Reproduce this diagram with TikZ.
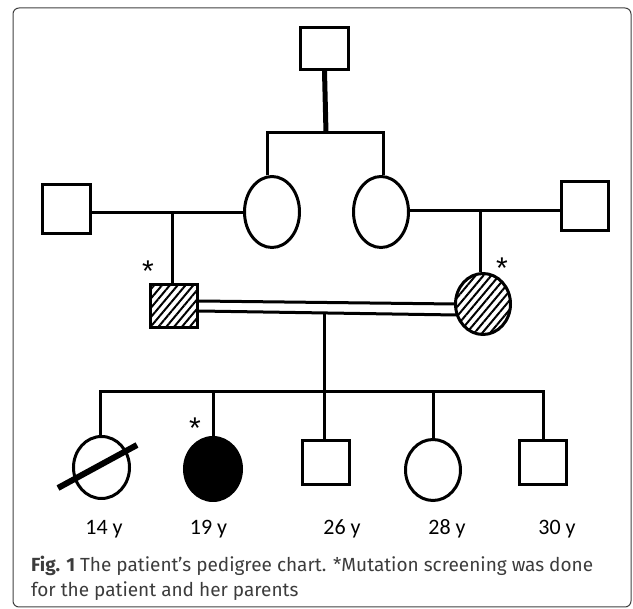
\documentclass[tikz,border=0pt]{standalone}
\usepackage{fontspec}
\setmainfont{Carlito}
\newfontfamily\capfont{Fira Sans}
\newfontfamily\astfont{Liberation Sans}
\usetikzlibrary{shapes.geometric,patterns.meta}
\definecolor{capgray}{RGB}{60,60,60}
\begin{document}
\begin{tikzpicture}[x=1pt,y=-1pt,
 sq/.style={draw,line width=3pt,rectangle,inner sep=0pt},
 circ/.style={draw,line width=3pt,ellipse,inner sep=0pt},
 ln/.style={line width=3pt},
 hatch/.style={pattern={Lines[angle=50,distance=6pt,line width=2pt]}},
 lab/.style={font=\fontsize{22}{26}\selectfont,anchor=base,inner sep=0pt},
 ast/.style={font=\astfont\fontsize{30}{30}\selectfont,anchor=base,inner sep=0pt},
 captext/.style={font=\capfont\fontsize{19}{25}\selectfont,text=capgray,anchor=base west,inner sep=0pt}]
\useasboundingbox (0,0) rectangle (633,609);
\draw[line width=1pt,rounded corners=6pt,black!75] (13,8) rectangle (631,607);
% generation I
\node[sq,minimum width=48pt,minimum height=42pt] (gp) at (324.5,48.5) {};
% generation II
\node[sq,minimum width=48pt,minimum height=49pt] (gfL) at (66.5,209) {};
\node[circ,minimum width=55pt,minimum height=71pt] (gmL) at (272,212) {};
\node[circ,minimum width=55pt,minimum height=71pt] (gmR) at (381,212) {};
\node[sq,minimum width=47pt,minimum height=49pt] (gfR) at (585,206) {};
% parents
\node[sq,hatch,minimum width=47pt,minimum height=43pt] (fa) at (174,306) {};
\node[circ,hatch,minimum width=55pt,minimum height=61pt] (mo) at (483,304) {};
% children
\node[circ,minimum width=56pt,minimum height=62pt] (c14) at (101.5,467.5) {};
\node[circ,fill=black,minimum width=57pt,minimum height=63pt] (c19) at (213,469) {};
\node[sq,minimum width=47pt,minimum height=44pt] (c26) at (326,462.5) {};
\node[circ,minimum width=55pt,minimum height=61pt] (c28) at (433,470) {};
\node[sq,minimum width=47pt,minimum height=44pt] (c30) at (543,462.5) {};
% junctions
\coordinate (gpj) at (326,133);
\coordinate (barL) at (267,133);
\coordinate (barR) at (383,133);
\coordinate (m1) at (172,213);
\coordinate (m2) at (480,211);
\coordinate (cm) at (324,313);
\coordinate (sibL) at (100,392);
\coordinate (sibR) at (543,392);
\coordinate (sl1) at (58,488);
\coordinate (sl2) at (137,445);
% connectors
\draw[line width=5pt] (gp.south) -- (gpj);
\draw[ln] (barL |- gmL.north) -- (barL) -- (barR) -- (barR |- gmR.north);
\draw[ln] (gfL.east |- m1) -- (gmL.west |- m1);
\draw[ln] (m1) -- (m1 |- fa.north);
\draw[ln] (gmR.east |- m2) -- (gfR.west |- m2);
\draw[ln] (m2) -- (m2 |- mo.north);
\draw[ln] ([yshift=5pt]fa.east) -- ([xshift=1pt]mo.west);
\draw[ln] ([yshift=-5pt]fa.east) -- ([xshift=2.5pt,yshift=-11pt]mo.west);
\draw[ln] (cm) -- (cm |- c26.north);
\draw[ln] (sibL |- c14.north) -- (sibL) -- (sibR) -- (sibR |- c30.north);
\draw[ln] (c19.north |- sibL) -- (c19.north);
\draw[ln] (c28.north |- sibL) -- (c28.north);
\draw[line width=6pt] (sl1) -- (sl2);
% asterisks
\node[ast] (a1) at (148,282) {*};
\node[ast] (a2) at (502,279) {*};
\node[ast] (a3) at (195,439) {*};
% ages
\node[lab] (l14) at (104,535) {14 y};
\node[lab] (l19) at (208.5,535) {19 y};
\node[lab] (l26) at (342,535) {26 y};
\node[lab] (l28) at (447,535) {28 y};
\node[lab] (l30) at (557,535) {30 y};
% caption
\node[captext] (cap1) at (31,572) {\textbf{Fig. 1} The patient’s pedigree chart. *Mutation screening was done};
\node[captext] (cap2) at (31,597) {for the patient and her parents};
\end{tikzpicture}
\end{document}
